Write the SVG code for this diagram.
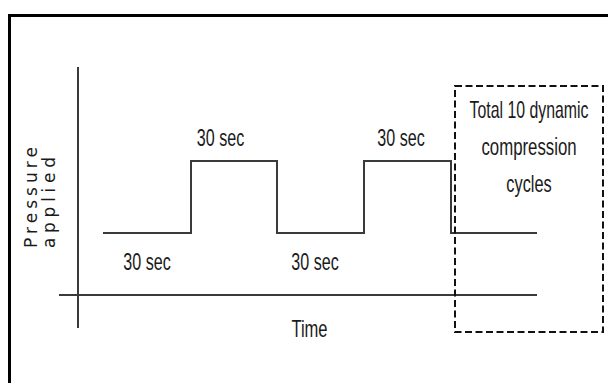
<svg xmlns="http://www.w3.org/2000/svg" width="608" height="383" viewBox="0 0 608 383">
<style>
.lbl{font-family:"Liberation Sans",Arial,sans-serif;font-size:23px;fill:#1a1a1a;text-anchor:middle}
.ax{font-family:"DejaVu Sans","Liberation Sans",sans-serif;font-size:17px;fill:#1a1a1a}
.line{fill:none;stroke:#3a3a3a;stroke-width:2}
</style>
<rect x="0" y="0" width="608" height="383" fill="#ffffff"/>
<rect x="9.5" y="15.5" width="700" height="500" fill="none" stroke="#000" stroke-width="3"/>
<g id="axes">
<line class="line" x1="78" y1="67" x2="78" y2="328" stroke="#555"/>
<line class="line" x1="59" y1="295" x2="537" y2="295"/>
</g>
<g id="waveform">
<path class="line" d="M103,233 H191 V161 H277 V233 H364 V161 H451 V233 H537"/>
</g>
<g id="cycles-box">
<rect x="455" y="86" width="148" height="246" fill="none" stroke="#111" stroke-width="2" stroke-dasharray="7 3.5"/>
<text class="lbl" transform="translate(529,118) scale(0.69,1)">Total 10 dynamic</text>
<text class="lbl" transform="translate(529,155) scale(0.73,1)">compression</text>
<text class="lbl" transform="translate(529,192) scale(0.71,1)">cycles</text>
</g>
<g id="labels">
<text class="lbl" transform="translate(220.5,146) scale(0.7,1)">30 sec</text>
<text class="lbl" transform="translate(401,146) scale(0.7,1)">30 sec</text>
<text class="lbl" transform="translate(147,270) scale(0.7,1)">30 sec</text>
<text class="lbl" transform="translate(315,270) scale(0.7,1)">30 sec</text>
<text class="lbl" transform="translate(309.5,337) scale(0.72,1)">Time</text>
</g>
<g id="y-label">
<text class="ax" transform="translate(37,248) rotate(-90)" textLength="101" lengthAdjust="spacing">Pressure</text>
<text class="ax" transform="translate(55,248) rotate(-90)" textLength="91" lengthAdjust="spacing">applied</text>
</g>
</svg>
